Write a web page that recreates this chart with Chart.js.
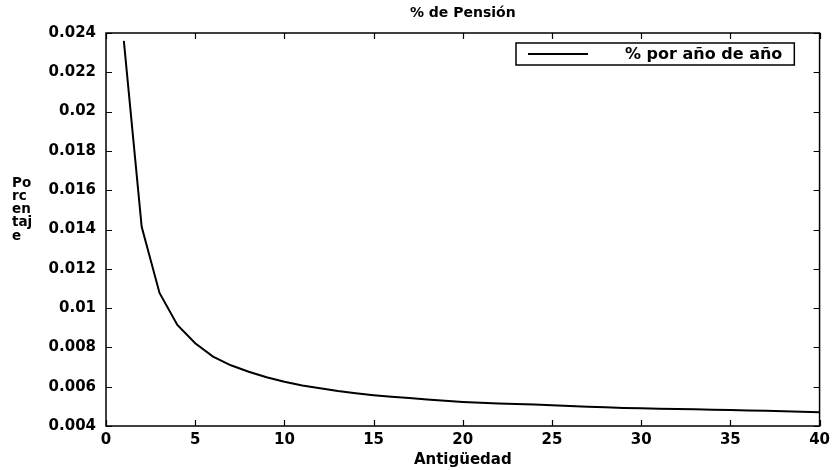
<!DOCTYPE html>
<html lang="es">
<head>
<meta charset="utf-8">
<title>% de Pensión</title>
<script src="https://cdn.jsdelivr.net/npm/chart.js@4"></script>
<style>
  html, body { margin: 0; padding: 0; background: #fff; }
  #wrap { position: relative; width: 835px; height: 470px; }
</style>
</head>
<body>
<div id="wrap"><canvas id="chart-pension"></canvas></div>
<script>
'use strict';

/* ── Datos: % de pensión por año de antigüedad ── */
const YEARS = [
   1,  2,  3,  4,  5,  6,  7,  8,  9, 10,
  11, 12, 13, 14, 15, 16, 17, 18, 19, 20,
  21, 22, 23, 24, 25, 26, 27, 28, 29, 30,
  31, 32, 33, 34, 35, 36, 37, 38, 39, 40,
];
const PCT_POR_ANO = [
  0.02360, 0.01414, 0.01077, 0.00914, 0.00821, 0.00753, 0.00709, 0.00676, 0.00648, 0.00625,
  0.00606, 0.00592, 0.00578, 0.00567, 0.00557, 0.00549, 0.00542, 0.00535, 0.00528, 0.00522,
  0.00518, 0.00515, 0.00512, 0.00509, 0.00506, 0.00502, 0.00498, 0.00495, 0.00492, 0.00490,
  0.00488, 0.00487, 0.00485, 0.00483, 0.00481, 0.00479, 0.00477, 0.00475, 0.00472, 0.00470,
];

/* ── Ejes y textos ── */
const X_TICKS = [0, 5, 10, 15, 20, 25, 30, 35, 40];
const Y_TICKS = [0.004, 0.006, 0.008, 0.01, 0.012, 0.014, 0.016, 0.018, 0.02, 0.022, 0.024];
const TITULO        = '% de Pensión';
const ETIQUETA_X    = 'Antigüedad';
const ETIQUETA_Y    = ['Po', 'rc', 'en', 'taj', 'e'];   // partida en renglones cortos
const LEYENDA       = '% por año de año';

const FUENTE = 'DejaVu Sans';
Chart.defaults.font.family = FUENTE;
Chart.defaults.color = '#000';

/* Marco del área de trazado + marcas de escala hacia dentro en los 4 lados */
const marcoEjes = {
  id: 'marcoEjes',
  afterDatasetsDraw(chart) {
    const { ctx, chartArea: a, scales: { x, y } } = chart;
    const largo = 6;
    ctx.save();
    ctx.strokeStyle = '#000';
    ctx.lineWidth = 1.5;
    ctx.strokeRect(a.left, a.top, a.right - a.left, a.bottom - a.top);
    ctx.lineWidth = 1.2;
    ctx.beginPath();
    X_TICKS.forEach(v => {
      const px = Math.round(x.getPixelForValue(v)) + 0.5;
      ctx.moveTo(px, a.bottom); ctx.lineTo(px, a.bottom - largo);
      ctx.moveTo(px, a.top);    ctx.lineTo(px, a.top + largo);
    });
    Y_TICKS.forEach(v => {
      const py = Math.round(y.getPixelForValue(v)) + 0.5;
      ctx.moveTo(a.left, py);  ctx.lineTo(a.left + largo, py);
      ctx.moveTo(a.right, py); ctx.lineTo(a.right - largo, py);
    });
    ctx.stroke();
    ctx.restore();
  },
};

/* Leyenda en recuadro, esquina superior derecha */
const leyendaCaja = {
  id: 'leyendaCaja',
  afterDraw(chart) {
    const { ctx, chartArea: a } = chart;
    ctx.save();
    ctx.font = `bold 16px "${FUENTE}"`;
    const anchoTexto = ctx.measureText(LEYENDA).width;
    const izq = 516, arriba = a.top + 10, alto = 22;
    const texX = izq + 109;
    const der = texX + anchoTexto + 12;
    ctx.fillStyle = '#fff';
    ctx.fillRect(izq, arriba, der - izq, alto);
    ctx.strokeStyle = '#000';
    ctx.lineWidth = 1.5;
    ctx.strokeRect(izq, arriba, der - izq, alto);
    ctx.lineWidth = 2;
    ctx.beginPath();
    ctx.moveTo(izq + 12, arriba + alto / 2);
    ctx.lineTo(izq + 72, arriba + alto / 2);
    ctx.stroke();
    ctx.fillStyle = '#000';
    ctx.textBaseline = 'middle';
    ctx.fillText(LEYENDA, texX, arriba + alto / 2 + 1);
    ctx.restore();
  },
};

/* Título general (centrado sobre el área de trazado) y título del eje Y en renglones */
const textosFijos = {
  id: 'textosFijos',
  afterDraw(chart) {
    const { ctx, chartArea: a } = chart;
    ctx.save();
    ctx.fillStyle = '#000';
    ctx.textBaseline = 'middle';
    ctx.textAlign = 'center';
    ctx.font = `bold 14px "${FUENTE}"`;
    ctx.fillText(TITULO, (a.left + a.right) / 2, 13);
    ctx.textAlign = 'left';
    ctx.font = `bold 13.5px "${FUENTE}"`;
    ETIQUETA_Y.forEach((t, i) => ctx.fillText(t, 12, 183 + i * 13.3));
    ctx.restore();
  },
};

new Chart(document.getElementById('chart-pension'), {
  type: 'line',
  data: {
    datasets: [{
      label: LEYENDA,
      data: YEARS.map((a, i) => ({ x: a, y: PCT_POR_ANO[i] })),
      borderColor: '#000',
      borderWidth: 2,
      pointRadius: 0,
      tension: 0,
      fill: false,
    }],
  },
  options: {
    responsive: true,
    maintainAspectRatio: false,
    animation: false,
    layout: { padding: { left: 0, right: 15, top: 33, bottom: 0 } },
    plugins: {
      legend: { display: false },
      tooltip: { enabled: false },
      title: { display: false },
    },
    scales: {
      x: {
        type: 'linear',
        min: 0, max: 40,
        afterBuildTicks: s => { s.ticks = X_TICKS.map(v => ({ value: v })); },
        afterFit: s => { s.height = 44; },
        grid: { display: false, drawTicks: false, tickLength: 0 },
        border: { display: false },
        ticks: { padding: 5, font: { size: 15, weight: 'bold' }, maxRotation: 0 },
        title: {
          display: true,
          text: ETIQUETA_X,
          font: { size: 15, weight: 'bold' },
          padding: { top: 0, bottom: 1 },
        },
      },
      y: {
        type: 'linear',
        min: 0.004, max: 0.024,
        afterBuildTicks: s => { s.ticks = Y_TICKS.map(v => ({ value: v })); },
        afterFit: s => { s.width = 106; },
        grid: { display: false, drawTicks: false, tickLength: 0 },
        border: { display: false },
        ticks: {
          padding: 10,
          font: { size: 15, weight: 'bold' },
          callback: v => String(Number(v.toFixed(3))),
        },
      },
    },
  },
  plugins: [marcoEjes, leyendaCaja, textosFijos],
});
</script>
</body>
</html>
